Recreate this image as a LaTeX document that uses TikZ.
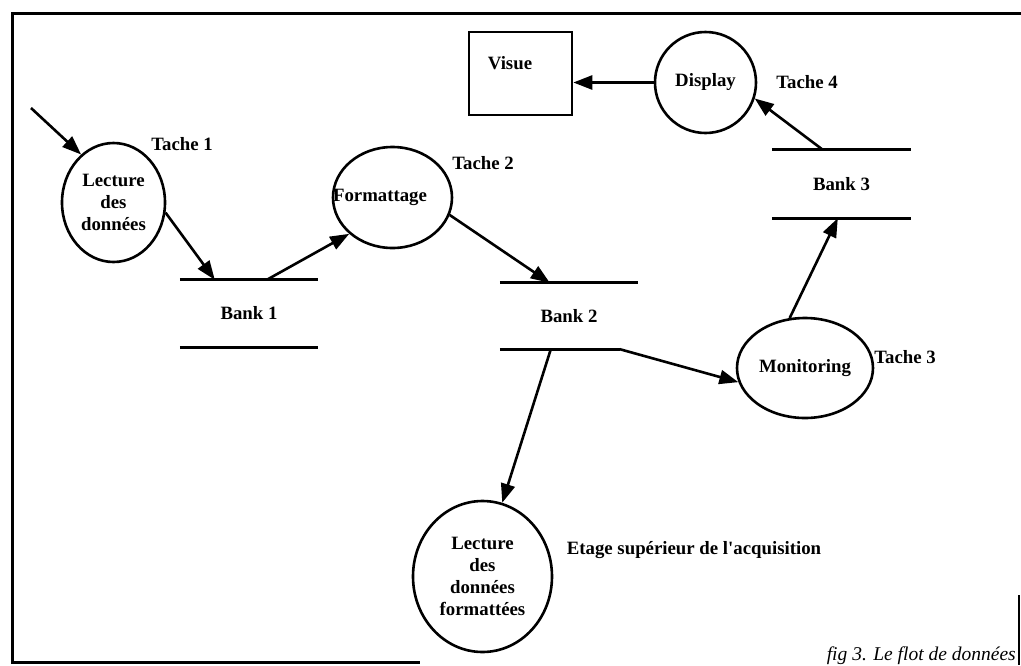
\documentclass[tikz,border=0pt]{standalone}
\usepackage{fontspec}
\setmainfont{Liberation Serif}
\usetikzlibrary{shapes.geometric,arrows.meta,calc}
\begin{document}
\begin{tikzpicture}[x=1pt,y=-1pt,
  txt/.style={font=\fontsize{18.8}{22}\selectfont\bfseries, inner sep=0pt, align=center},
  proc/.style={ellipse, draw, line width=2.6pt, inner sep=0pt, txt},
  arr/.style={line width=2.6pt, -{Triangle[length=19pt,width=14pt]}},
  bankline/.style={line width=2.8pt},
  frameline/.style={line width=3pt},
  bank/.style={rectangle, inner sep=0pt, txt}
]
\useasboundingbox (0,0) rectangle (1021,665);

% frame
\draw[frameline] (1021,13) -- (12,13) -- (12,662) -- (420,662);
\draw[line width=1.2pt] (1019,595) -- (1019,665);

% processes
\node[proc, minimum width=103pt, minimum height=119pt] (lec1) at (113.5,202.5) {Lecture\\des\\données};
\node[proc, minimum width=119pt, minimum height=101pt,
      label={[txt,xshift=-12.5pt]center:Formattage}] (fmt) at (392.5,197.5) {};
\node[draw, line width=2.6pt, minimum width=103pt, minimum height=83pt, inner sep=0pt,
      label={[txt,xshift=-10.5pt,yshift=10.5pt]center:Visue}] (vis) at (520.5,73.5) {};
\node[circle, draw, line width=2.6pt, minimum size=101pt, inner sep=0pt, txt] (disp) at (705.5,82.5) {Display};
\node[proc, minimum width=136pt, minimum height=100pt] (mon) at (805,368) {Monitoring};
\node[proc, minimum width=139pt, minimum height=151pt] (lecf) at (482.5,576.5) {Lecture\\des\\données\\formattées};

% banks
\node[bank, minimum width=138pt, minimum height=67pt] (b1) at (249,313.5) {Bank 1};
\draw[bankline] (b1.north west) -- (b1.north east) (b1.south west) -- (b1.south east);
\node[bank, minimum width=138pt, minimum height=66pt] (b2) at (569,316) {Bank 2};
\draw[bankline] (b2.north west) -- (b2.north east) (b2.south west) -- ([xshift=120pt]b2.south west);
\node[bank, minimum width=139pt, minimum height=68pt] (b3) at (841.5,184) {Bank 3};
\draw[bankline] (b3.north west) -- (b3.north east) (b3.south west) -- (b3.south east);

% labels
\node[txt] (t1) at (182,144) {Tache 1};
\node[txt] (t2) at (483,163) {Tache 2};
\node[txt] (t3) at (905,357) {Tache 3};
\node[txt] (t4) at (807,82) {Tache 4};
\node[txt] (etage) at (694,550) {Etage supérieur de l\textquotesingle acquisition};
\node[font=\fontsize{19.5}{22}\selectfont\itshape, inner sep=0pt, anchor=base east] (cap) at (1016,660) {fig 3. Le flot de données};

% flows
\coordinate (in) at (31,108);
\draw[arr] (in) -- (lec1.124);
\draw[arr] (lec1.-11) -- ([xshift=35pt]b1.north west);
\draw[arr] ([xshift=87pt]b1.north west) -- (fmt.-140.6);
\draw[arr] (fmt.-17) -- ([xshift=50pt]b2.north west);
\draw[arr] ([xshift=51pt]b2.south west) -- (lecf.75.7);
\draw[arr] ([xshift=120pt]b2.south west) -- (mon.192.6);
\draw[arr] (mon.107.7) -- ([xshift=66pt]b3.south west);
\draw[arr] ([xshift=51pt]b3.north west) -- (disp.-18.4);
\draw[arr] (disp.west) -- (disp.west -| vis.east);
\end{tikzpicture}
\end{document}
